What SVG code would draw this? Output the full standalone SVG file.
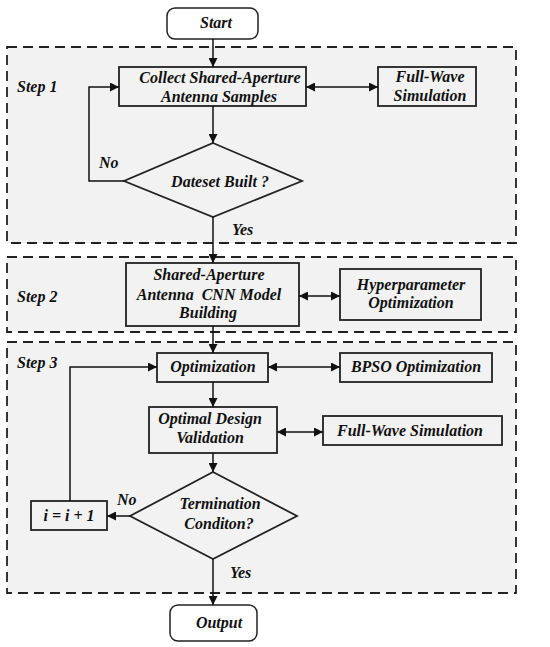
<svg xmlns="http://www.w3.org/2000/svg" width="550" height="647" viewBox="0 0 550 647">
<defs>
<marker id="ah" viewBox="0 0 10 10" refX="10" refY="5" markerWidth="9" markerHeight="9" markerUnits="userSpaceOnUse" orient="auto-start-reverse">
<path d="M0,0 L10,5 L0,10 z" fill="#111"/>
</marker>
<style>
.panel{fill:#f2f2f2;stroke:#222;stroke-width:1.8;stroke-dasharray:10,6}
.box{fill:#f2f2f2;stroke:#222;stroke-width:1.8}
.term{fill:#fff;stroke:#222;stroke-width:1.5}
.t{font-family:"Liberation Serif","Times New Roman",serif;font-weight:bold;font-style:italic;font-size:16px;fill:#111;text-anchor:middle}
.l{text-anchor:start}
.c{fill:none;stroke:#111;stroke-width:1.5}
.a{marker-end:url(#ah)}
.d{marker-start:url(#ah);marker-end:url(#ah)}
</style>
</defs>
<g id="panels">
<rect class="panel" x="7" y="47" width="509" height="196"/>
<rect class="panel" x="7" y="257" width="509" height="75"/>
<rect class="panel" x="7" y="342" width="509" height="251"/>
<text class="t l" x="17" y="92">Step 1</text>
<text class="t l" x="17" y="302">Step 2</text>
<text class="t l" x="17" y="368">Step 3</text>
</g>
<g id="start"><rect class="term" x="167" y="8" width="91" height="31" rx="8"/><text class="t" x="216" y="28">Start</text></g>
<g id="collect"><rect class="box" x="119" y="67" width="187" height="39"/><text class="t" x="220" y="83">Collect Shared-Aperture</text><text class="t" x="219" y="102">Antenna Samples</text></g>
<g id="fullwave1"><rect class="box" x="378" y="67" width="98" height="39"/><text class="t" x="430" y="82">Full-Wave</text><text class="t" x="430" y="101">Simulation</text></g>
<g id="dataset"><polygon class="box" points="213,143 302,181 213,217 124,181"/><text class="t" x="220" y="187">Dateset Built ?</text></g>
<g id="cnn"><rect class="box" x="126" y="263" width="173" height="63"/><text class="t" x="209" y="280">Shared-Aperture</text><text class="t" x="209" y="300" xml:space="preserve">Antenna  CNN Model</text><text class="t" x="208" y="318">Building</text></g>
<g id="hyper"><rect class="box" x="340" y="269" width="141" height="51"/><text class="t" x="411" y="290">Hyperparameter</text><text class="t" x="411" y="308">Optimization</text></g>
<g id="optim"><rect class="box" x="157" y="353" width="111" height="29"/><text class="t" x="213" y="372">Optimization</text></g>
<g id="bpso"><rect class="box" x="340" y="353" width="152" height="29"/><text class="t" x="416" y="372">BPSO Optimization</text></g>
<g id="optimal"><rect class="box" x="149" y="407" width="128" height="46"/><text class="t" x="210" y="424">Optimal Design</text><text class="t" x="210" y="443">Validation</text></g>
<g id="fullwave2"><rect class="box" x="323" y="416" width="179" height="29"/><text class="t" x="410" y="436">Full-Wave Simulation</text></g>
<g id="term"><polygon class="box" points="213,472 297,516 213,559 130,516"/><text class="t" x="220" y="509">Termination</text><text class="t" x="219" y="529">Conditon?</text></g>
<g id="incr"><rect class="box" x="31" y="501" width="76" height="29"/><text class="t" x="69" y="521">i = i + 1</text></g>
<g id="output"><rect class="term" x="170" y="605" width="87" height="36" rx="8"/><text class="t" x="219" y="628">Output</text></g>
<g id="connectors">
<line class="c a" x1="213" y1="39" x2="213" y2="67"/>
<line class="c a" x1="213" y1="106" x2="213" y2="143"/>
<polyline class="c a" points="124,181 89,181 89,87 119,87"/>
<line class="c d" x1="306" y1="87" x2="378" y2="87"/>
<line class="c a" x1="213" y1="217" x2="213" y2="263"/>
<line class="c d" x1="299" y1="296" x2="340" y2="296"/>
<line class="c a" x1="213" y1="326" x2="213" y2="353"/>
<line class="c d" x1="268" y1="367" x2="340" y2="367"/>
<line class="c a" x1="213" y1="382" x2="213" y2="407"/>
<line class="c d" x1="277" y1="432" x2="323" y2="432"/>
<line class="c a" x1="213" y1="453" x2="213" y2="472"/>
<line class="c a" x1="130" y1="516" x2="107" y2="516"/>
<polyline class="c a" points="70,501 70,367 157,367"/>
<line class="c a" x1="213" y1="559" x2="213" y2="605"/>
<text class="t l" x="99" y="168">No</text>
<text class="t l" x="232" y="235">Yes</text>
<text class="t l" x="117" y="505">No</text>
<text class="t l" x="230" y="578">Yes</text>
</g>
</svg>
